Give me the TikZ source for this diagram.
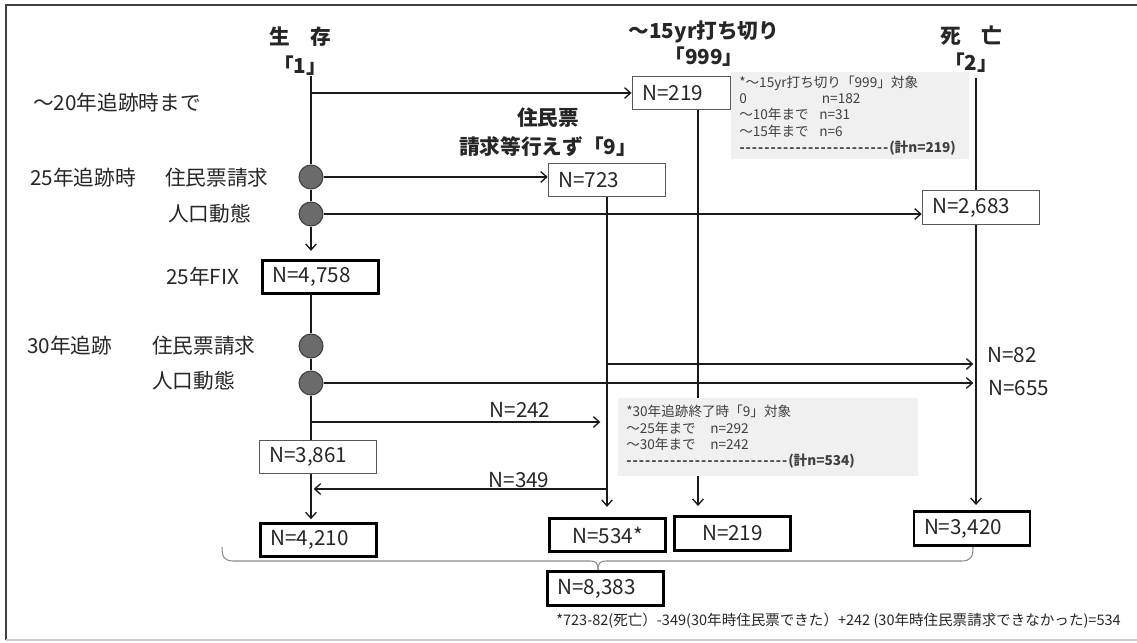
\documentclass[tikz,border=0pt]{standalone}
\usepackage{fontspec}
\setmainfont{Noto Sans CJK JP}
\usetikzlibrary{arrows.meta}
\definecolor{textc}{HTML}{262626}
\definecolor{boxgray}{HTML}{595959}
\definecolor{dotf}{HTML}{6B6B6B}
\definecolor{dotb}{HTML}{3F3F3F}
\definecolor{linec}{HTML}{1A1A1A}
\definecolor{notef}{HTML}{F0F0F0}
\definecolor{notet}{HTML}{404040}
\definecolor{framec}{HTML}{404040}
\definecolor{bracec}{HTML}{8C8C8C}
\newcommand{\dashfill}[1]{\makebox[#1]{\xleaders\hbox{\bfseries -\kern0.6pt}\hfill}}
\begin{document}
\begin{tikzpicture}[x=0.75pt,y=-0.75pt,
  txt/.style={text=textc, inner sep=0pt, font=\fontsize{15.5}{18}\selectfont},
  hdr/.style={text=textc, inner sep=0pt, align=center, font=\fontsize{15.5}{22}\selectfont\bfseries},
  nbox/.style={draw=boxgray, line width=0.9pt, fill=white, minimum height=25pt, inner xsep=7.5pt, inner ysep=0pt, text width=73pt, align=left, text=textc, font=\fontsize{15.5}{18}\selectfont},
  tbox/.style={nbox, draw=black, line width=2.2pt, text width=72pt},
  dot/.style={circle, draw=dotb, fill=dotf, line width=0.8pt, minimum size=18pt, inner sep=0pt},
  conn/.style={draw=linec, line width=1pt},
  arr/.style={conn, -{Straight Barb[length=4.5pt,width=8pt]}},
  note/.style={fill=notef, inner xsep=6pt, inner ysep=2pt, align=left, text=notet, font=\fontsize{10.2}{12.3}\selectfont, anchor=north west},
]
\useasboundingbox (0,0) rectangle (1137,642);
% frame
\draw[draw=framec, line width=1.5pt] (6,640) -- (6,5) -- (1137,5);
\draw[draw=black!20, line width=1pt] (6,640) -- (1137,640);

% headers
\node[hdr] (h1) at (300,51) {生　存\\「1」};
\node[hdr, font=\fontsize{15.5}{20}\selectfont\bfseries] (h999) at (704,43.5) {～15yr打ち切り\\「999」};
\node[hdr, font=\fontsize{15.5}{20}\selectfont\bfseries] (h2) at (971,49) {死　亡\\「2」};
\node[hdr] (h9) at (548,132) {住民票\\請求等行えず「9」};

% left labels
\node[txt, anchor=west] (l20) at (33,103) {～20年追跡時まで};
\node[txt, anchor=west] (l25) at (30,178) {25年追跡時};
\node[txt, anchor=west] (l25a) at (165,178) {住民票請求};
\node[txt, anchor=west] (l25b) at (168,214) {人口動態};
\node[txt, anchor=west] (lfix) at (166,277) {25年FIX};
\node[txt, anchor=west] (l30) at (27,346) {30年追跡};
\node[txt, anchor=west] (l30a) at (152,346) {住民票請求};
\node[txt, anchor=west] (l30b) at (152,381) {人口動態};

% boxes
\node[nbox, text width=59pt] (b219t) at (681.5,93) {N=219};
\node[nbox] (b723) at (607,180) {N=723};
\node[nbox] (b2683) at (981,207.5) {N=2,683};
\node[tbox] (b4758) at (320.5,277) {N=4,758};
\node[nbox] (b3861) at (318,457) {N=3,861};
\node[tbox] (b4210) at (318.5,540) {N=4,210};
\node[tbox, align=center] (b534) at (607.5,535) {N=534*};
\node[tbox, align=center] (b219b) at (732.5,533.5) {N=219};
\node[tbox] (b3420) at (972,528.5) {N=3,420};
\node[tbox] (b8383) at (605.5,588.5) {N=8,383};

% dots
\node[dot] (c1) at (311,177) {};
\node[dot] (c2) at (311,214) {};
\node[dot] (c3) at (311,346) {};
\node[dot] (c4) at (311,383) {};

% helper coordinates
\coordinate (xs) at (311,0);
\coordinate (x999) at (698,0);
\coordinate (x9) at (607,0);
\coordinate (xd) at (976,0);
\coordinate (s0) at (311,76);
\coordinate (d0) at (976,78);
\coordinate (a82) at (607,364);
\coordinate (a242) at (311,422);
\coordinate (a349) at (607,489);

% connectors
\draw[conn] (s0) -- (c1);
\draw[conn] (c1) -- (c2);
\draw[arr, shorten >=6pt] (c2) -- (c2 |- b4758.north);
\draw[arr] (s0 |- b219t.west) -- (b219t.west);
\draw[arr] (c1.east) -- (b723.west |- c1);
\draw[arr] (c2.east) -- (b2683.west |- c2);
\draw[conn] (b4758.south -| xs) -- (c3);
\draw[conn] (c3) -- (c4);
\draw[conn] (c4) -- (c4 |- b3861.north);
\draw[arr, shorten >=2pt] (b3861.south -| xs) -- (b4210.north -| xs);
\draw[arr, shorten >=7.5pt] (b723.south) -- (b534.north -| b723);
\draw[arr, shorten >=7pt] (b219t.south -| x999) -- (b219b.north -| x999);
\draw[conn] (d0) -- (b2683.north -| xd);
\draw[arr, shorten >=4pt] (b2683.south -| xd) -- (b3420.north -| xd);
\draw[arr, shorten >=2pt] (a82) -- (a82 -| xd);
\draw[arr, shorten >=2pt] (c4.east) -- (c4 -| xd);
\draw[arr, shorten >=5pt] (a242) -- (a242 -| x9);
\draw[arr, shorten >=2pt] (a349) -- (a349 -| xs);

% flow labels
\node[txt, anchor=west] (l82) at (987,355) {N=82};
\node[txt, anchor=west] (l655) at (988,388) {N=655};
\node[txt] (l242) at (520,410) {N=242};
\node[txt] (l349) at (519,480) {N=349};

% notes
\node[note, minimum width=178.5pt, minimum height=65pt, text width=166.5pt] (n1) at (731,72) {*～15yr打ち切り「999」対象\\
\makebox[62pt][l]{0}n=182\\
\makebox[60pt][l]{～10年まで}n=31\\
\makebox[60pt][l]{～15年まで}n=6\\
\dashfill{112.5pt}\textbf{(計n=219)}};
\node[note, minimum width=225pt, minimum height=58pt, text width=213pt] (n2) at (618,398) {*30年追跡終了時「9」対象\\
\makebox[63pt][l]{～25年まで}n=292\\
\makebox[63pt][l]{～30年まで}n=242\\
\dashfill{121.5pt}\textbf{(計n=534)}};

% brace
\draw[draw=bracec, line width=0.8pt] (222,547) .. controls (222,557) and (224,561) .. (234,561) -- (590,561) .. controls (596,561) and (598,563) .. (598,570);
\draw[draw=bracec, line width=0.8pt] (598,570) .. controls (598,563) and (600,561) .. (606,561) -- (961,561) .. controls (971,561) and (973,557) .. (973,547);

% footnote
\node[txt, font=\fontsize{10.9}{12}\selectfont, anchor=west] (fn) at (556,621) {*723-82(死亡）-349(30年時住民票できた）+242 (30年時住民票請求できなかった)=534};
\end{tikzpicture}
\end{document}
